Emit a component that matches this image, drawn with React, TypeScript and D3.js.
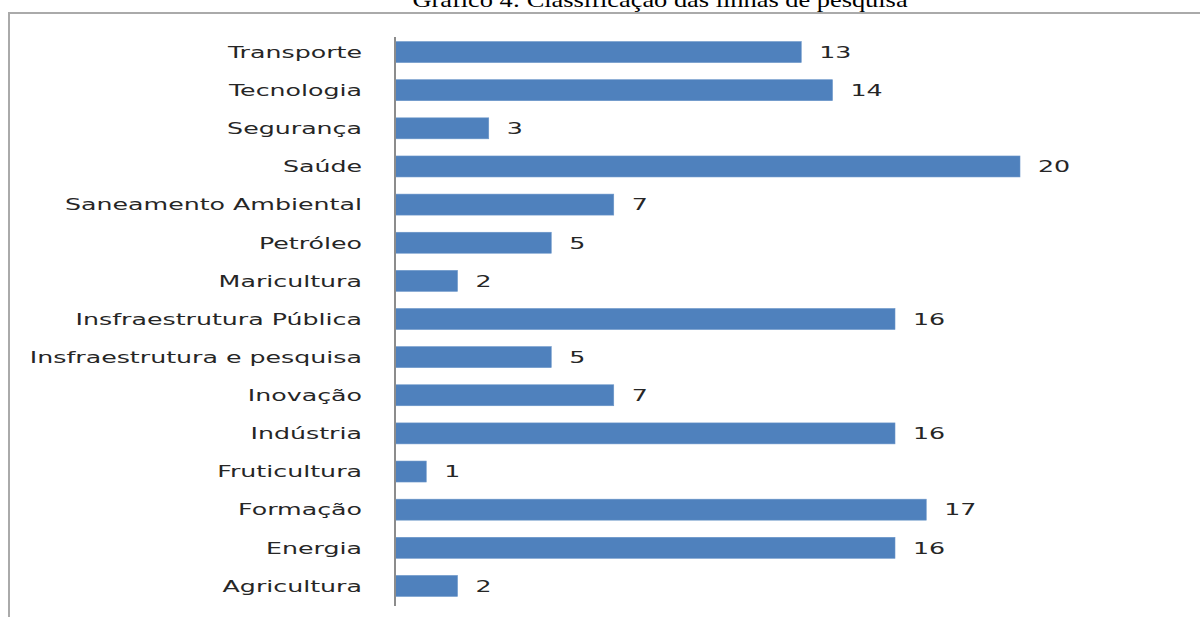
import React, { useEffect, useRef } from 'react';
import * as d3 from 'd3';

const categories = [
  'Transporte', 'Tecnologia', 'Segurança', 'Saúde', 'Saneamento Ambiental', 'Petróleo',
  'Maricultura', 'Insfraestrutura Pública', 'Insfraestrutura e pesquisa', 'Inovação',
  'Indústria', 'Fruticultura', 'Formação', 'Energia', 'Agricultura',
];
const values = [13, 14, 3, 20, 7, 5, 2, 16, 5, 7, 16, 1, 17, 16, 2];
const title = 'Gráfico 4: Classificação das linhas de pesquisa';

export default function App() {
  const ref = useRef<SVGSVGElement>(null);
  useEffect(() => {
    if (!ref.current) return;
    const svg = d3.select(ref.current);
    svg.selectAll('*').remove();
    const W = 1200, H = 617;
    const stretch = 1.58;
    const font = '"DejaVu Sans", Verdana, sans-serif';

    const x = d3.scaleLinear().domain([0, 20]).range([395, 1020]);
    const y = d3.scaleBand<string>().domain(categories).range([33, 605]).paddingInner(0.45).paddingOuter(0.225);

    svg.append('rect').attr('width', W).attr('height', H).attr('fill', '#fff');

    // title is clipped by the top edge, as in the source image
    svg.append('text').attr('transform', 'translate(660,7) scale(1.2,1)')
      .attr('text-anchor', 'middle').attr('font-family', '"Liberation Serif", "Times New Roman", serif')
      .attr('font-size', 22).attr('fill', '#000').text(title);

    // chart frame
    svg.append('path').attr('d', `M9,${H} V13 H${W}`).attr('fill', 'none').attr('stroke', '#aaa').attr('stroke-width', 2);

    const data = categories.map((c, i) => ({ c, v: values[i] }));

    svg.append('g').selectAll('rect').data(data).join('rect')
      .attr('x', x(0)).attr('y', d => y(d.c)!)
      .attr('width', d => x(d.v) - x(0)).attr('height', y.bandwidth())
      .attr('fill', '#4f81bd').attr('stroke', '#6a95c9').attr('stroke-width', 0.6);

    svg.append('line').attr('x1', x(0)).attr('x2', x(0)).attr('y1', 37).attr('y2', 606)
      .attr('stroke', '#8c8c8c').attr('stroke-width', 2);

    svg.append('g').selectAll('text').data(data).join('text')
      .attr('transform', d => `translate(362,${y(d.c)! + y.bandwidth() / 2}) scale(${stretch},1)`)
      .attr('text-anchor', 'end').attr('dy', '0.36em')
      .attr('font-family', font).attr('font-size', 16).attr('fill', '#262626')
      .text(d => d.c);

    svg.append('g').selectAll('text').data(data).join('text')
      .attr('transform', d => `translate(${x(d.v) + 18},${y(d.c)! + y.bandwidth() / 2}) scale(${stretch},1)`)
      .attr('dy', '0.36em')
      .attr('font-family', font).attr('font-size', 16).attr('fill', '#262626')
      .text(d => d.v);
  }, []);
  return <svg ref={ref} width={1200} height={617} style={{ position: 'absolute', left: 0, top: 0 }} />;
}
